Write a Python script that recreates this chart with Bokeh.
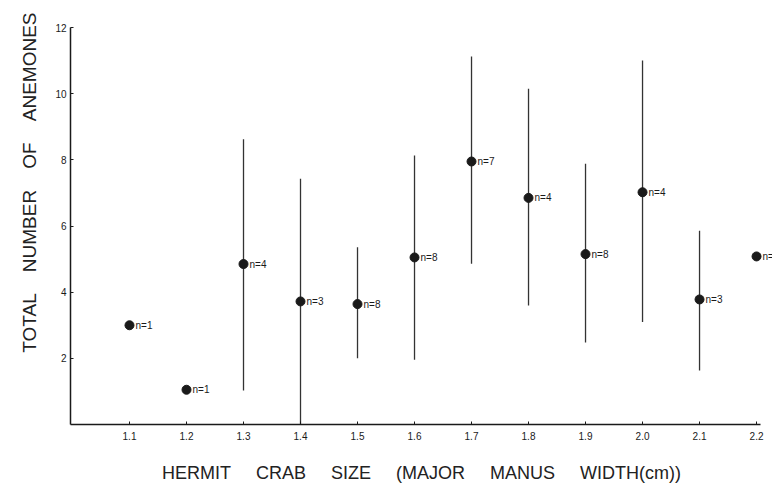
from bokeh.plotting import figure
from bokeh.models import ColumnDataSource, FixedTicker, Range1d, Title, PrintfTickFormatter
from bokeh.core.properties import value
from bokeh.embed import file_html
from bokeh.resources import INLINE

# --- data ---
sizes = [1.1, 1.2, 1.3, 1.4, 1.5, 1.6, 1.7, 1.8, 1.9, 2.0, 2.1, 2.2]
means = [3.0, 1.05, 4.85, 3.72, 3.64, 5.05, 7.95, 6.85, 5.15, 7.02, 3.78, 5.08]
lows = [3.0, 1.05, 1.03, 0.0, 2.0, 1.96, 4.86, 3.6, 2.48, 3.1, 1.63, 5.08]
highs = [3.0, 1.05, 8.62, 7.43, 5.36, 8.13, 11.12, 10.15, 7.88, 11.0, 5.86, 5.08]
counts = ["n=1", "n=1", "n=4", "n=3", "n=8", "n=8", "n=7", "n=4", "n=8", "n=4", "n=3", "n=1"]
x_ticks = [1.1, 1.2, 1.3, 1.4, 1.5, 1.6, 1.7, 1.8, 1.9, 2.0, 2.1, 2.2]
y_ticks = [2, 4, 6, 8, 10, 12]

FONT = "Liberation Sans"
INK = "#1a1a1a"
NB = "\u00a0"

x_title = (NB * 5).join(["HERMIT", "CRAB", "SIZE", "(MAJOR", "MANUS", "WIDTH(cm))"])
y_title = (NB * 4).join(["TOTAL", "NUMBER", "OF", "ANEMONES"])

src = ColumnDataSource(dict(x=sizes, y=means, lo=lows, hi=highs, n=counts))

p = figure(width=772, height=486, output_backend="svg", toolbar_location=None,
           x_range=Range1d(0.9965, 2.228), y_range=Range1d(0, 12),
           min_border_left=70, min_border_right=0, min_border_top=27,
           min_border_bottom=62, background_fill_color="white",
           border_fill_color="white")
p.outline_line_color = None
p.grid.visible = False

p.segment(x0="x", y0="lo", x1="x", y1="hi", source=src, line_color="#333333",
          line_width=1.3)
p.scatter(x="x", y="y", source=src, size=9, fill_color=INK, line_color=INK)
p.text(x="x", y="y", text="n", source=src, x_offset=6, text_baseline="middle",
       text_align="left", text_font=value(FONT), text_font_size="10px",
       text_color=INK)

xa = p.xaxis[0]
xa.ticker = FixedTicker(ticks=x_ticks)
xa.formatter = PrintfTickFormatter(format="%.1f")
xa.bounds = (0.9965, 2.207)
xa.major_tick_in = 3
xa.major_tick_out = 0
xa.minor_tick_line_color = None
xa.axis_line_width = 1.5
xa.axis_line_color = INK
xa.major_tick_line_color = INK
xa.major_label_text_font = FONT
xa.major_label_text_font_size = "10px"
xa.major_label_text_color = INK
xa.major_label_standoff = 7
xa.axis_label = x_title
xa.axis_label_text_font = FONT
xa.axis_label_text_font_style = "normal"
xa.axis_label_text_font_size = "18px"
xa.axis_label_text_color = "#222222"
xa.axis_label_standoff = 20

ya = p.yaxis[0]
ya.ticker = FixedTicker(ticks=y_ticks)
ya.major_tick_in = 3
ya.major_tick_out = 0
ya.minor_tick_line_color = None
ya.axis_line_width = 1.5
ya.axis_line_color = INK
ya.major_tick_line_color = INK
ya.major_label_text_font = FONT
ya.major_label_text_font_size = "10px"
ya.major_label_text_color = INK
ya.major_label_standoff = 4

p.add_layout(Title(text=y_title, align="right", offset=-15, text_font=FONT,
                   text_font_size="19px", text_font_style="normal",
                   text_color="#222222", standoff=25), "left")

open("out.html", "w").write(file_html(p, INLINE))
